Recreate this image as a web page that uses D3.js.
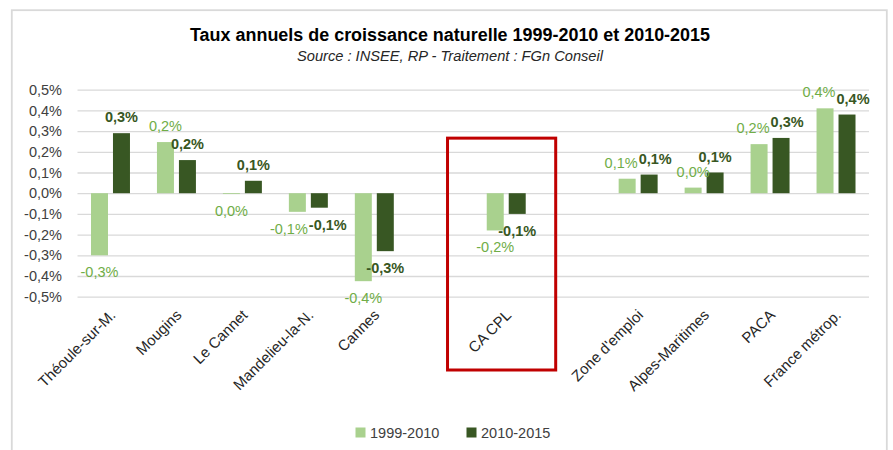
<!DOCTYPE html>
<html>
<head>
<meta charset="utf-8">
<script src="https://cdn.jsdelivr.net/npm/d3@7"></script>
<style>
  html, body { margin: 0; padding: 0; background: #ffffff; }
  svg { display: block; }
  text { font-family: "Liberation Sans", Arial, sans-serif; }
</style>
</head>
<body>
<svg id="chart" width="893" height="450"></svg>
<script>
// ---- Data ----
const categories = ["Théoule-sur-M.", "Mougins", "Le Cannet", "Mandelieu-la-N.", "Cannes", "", "CA CPL", "", "Zone d'emploi", "Alpes-Maritimes", "PACA", "France métrop."];
const seriesNames = ["1999-2010", "2010-2015"];
const values1999_2010 = [-0.30, 0.247, -0.004, -0.09, -0.425, null, -0.18, null, 0.07, 0.027, 0.237, 0.41];
const values2010_2015 = [0.29, 0.16, 0.06, -0.07, -0.28, null, -0.10, null, 0.09, 0.10, 0.267, 0.38];
const yTickValues = [-0.5, -0.4, -0.3, -0.2, -0.1, 0, 0.1, 0.2, 0.3, 0.4, 0.5];
const titleText = "Taux annuels de croissance naturelle 1999-2010 et 2010-2015";
const subtitleText = "Source : INSEE, RP - Traitement : FGn Conseil";

// ---- Styles ----
const colors = ["#A9D18E", "#385723"];
const labelColors = ["#70AD47", "#385723"];
const labelWeights = ["normal", "bold"];
const textColor = "#404040";
const fs = 14.5;

const svg = d3.select("#chart");

// frame
svg.append("rect")
  .attr("x", 11.8).attr("y", 10.2).attr("width", 875).attr("height", 460)
  .attr("fill", "#ffffff").attr("stroke", "#d9d9d9").attr("stroke-width", 1.8);

// scales
const x0 = d3.scaleBand().domain(d3.range(categories.length)).range([77.5, 869]).paddingInner(0).paddingOuter(0);
const x1 = d3.scaleBand().domain(d3.range(seriesNames.length)).range([0, x0.bandwidth()])
  .paddingInner(0.227).paddingOuter(0.614);
const y = d3.scaleLinear().domain([-0.5, 0.5]).range([296.7, 89.7]);

const fmt = v => {
  let r = Math.round(v * 10) / 10;
  if (r === 0) r = 0;
  return r.toFixed(1).replace(".", ",") + "%";
};

// y axis with gridlines
const yAxis = d3.axisLeft(y)
  .tickValues(yTickValues)
  .tickFormat(fmt)
  .tickSize(-(869 - 77.5))
  .tickPadding(15.5);
const gy = svg.append("g").attr("transform", "translate(77.5,0)").call(yAxis);
gy.select(".domain").remove();
gy.selectAll(".tick line").attr("stroke", "#d9d9d9").attr("stroke-width", 1.3);
gy.selectAll(".tick text").attr("fill", textColor).style("font-size", fs + "px")
  .style("font-family", "'Liberation Sans', Arial, sans-serif");

// bars
const allSeries = [values1999_2010, values2010_2015];
const barsG = svg.append("g");
allSeries.forEach((vals, si) => {
  barsG.selectAll(null)
    .data(vals.map((v, i) => ({ v, i })).filter(d => d.v !== null))
    .enter().append("rect")
    .attr("x", d => x0(d.i) + x1(si))
    .attr("width", x1.bandwidth())
    .attr("y", d => y(Math.max(0, d.v)))
    .attr("height", d => Math.abs(y(d.v) - y(0)))
    .attr("fill", colors[si]);
});

// data labels
const labelsG = svg.append("g");
const labelInfo = [];
allSeries.forEach((vals, si) => {
  vals.forEach((v, i) => {
    if (v === null) return;
    const cx = x0(i) + x1(si) + x1.bandwidth() / 2;
    const by = v >= 0 ? y(v) - 11 : y(v) + 22;
    const t = labelsG.append("text")
      .attr("x", cx).attr("y", by)
      .attr("text-anchor", "middle")
      .attr("fill", labelColors[si])
      .style("font-size", fs + "px")
      .style("font-weight", labelWeights[si])
      .text(fmt(v));
    labelInfo.push({ i, si, t, cx, by, w: t.node().getComputedTextLength() });
  });
});
// simple horizontal collision avoidance within a category
d3.range(categories.length).forEach(i => {
  const a = labelInfo.find(d => d.i === i && d.si === 0);
  const b = labelInfo.find(d => d.i === i && d.si === 1);
  if (!a || !b) return;
  if (Math.abs(a.by - b.by) < 13) {
    const overlap = (a.cx + a.w / 2) - (b.cx - b.w / 2);
    if (overlap > 0) {
      a.t.attr("x", a.cx - overlap / 2 - 0.5);
      b.t.attr("x", b.cx + overlap / 2 + 0.5);
    }
  }
});

// category labels (rotated)
svg.append("g").selectAll(null)
  .data(categories.map((c, i) => ({ c, i })).filter(d => d.c !== ""))
  .enter().append("text")
  .attr("transform", d => `translate(${x0(d.i) + x0.bandwidth() / 2 + 6},${316}) rotate(-45)`)
  .attr("text-anchor", "end")
  .attr("fill", "#262626")
  .style("font-size", "15px")
  .text(d => d.c);

// highlight box around CA CPL
const hi = categories.indexOf("CA CPL");
svg.append("rect")
  .attr("x", x0(hi) - x0.step() * 0.39)
  .attr("y", y(0.266))
  .attr("width", x0.step() * 1.64)
  .attr("height", 370 - y(0.266))
  .attr("fill", "none")
  .attr("stroke", "#C00000")
  .attr("stroke-width", 3);

// title and subtitle
const title = svg.append("text")
  .attr("x", 450).attr("y", 41)
  .attr("text-anchor", "middle")
  .attr("fill", "#000000")
  .style("font-size", "18px").style("font-weight", "bold")
  .text(titleText);
if (title.node().getComputedTextLength() > 520) title.attr("textLength", 520).attr("lengthAdjust", "spacingAndGlyphs");

const sub = svg.append("text")
  .attr("x", 450).attr("y", 61)
  .attr("text-anchor", "middle")
  .attr("fill", "#262626")
  .style("font-size", "14.7px").style("font-style", "italic")
  .text(subtitleText);
if (sub.node().getComputedTextLength() > 306) sub.attr("textLength", 306).attr("lengthAdjust", "spacingAndGlyphs");

// legend
const legend = svg.append("g");
const legendX = [355.5, 466.5];
seriesNames.forEach((s, si) => {
  legend.append("rect")
    .attr("x", legendX[si]).attr("y", 427.5).attr("width", 10).attr("height", 10)
    .attr("fill", colors[si]);
  legend.append("text")
    .attr("x", legendX[si] + 14.5).attr("y", 438)
    .attr("fill", textColor)
    .style("font-size", fs + "px")
    .text(s);
});
</script>
</body>
</html>
